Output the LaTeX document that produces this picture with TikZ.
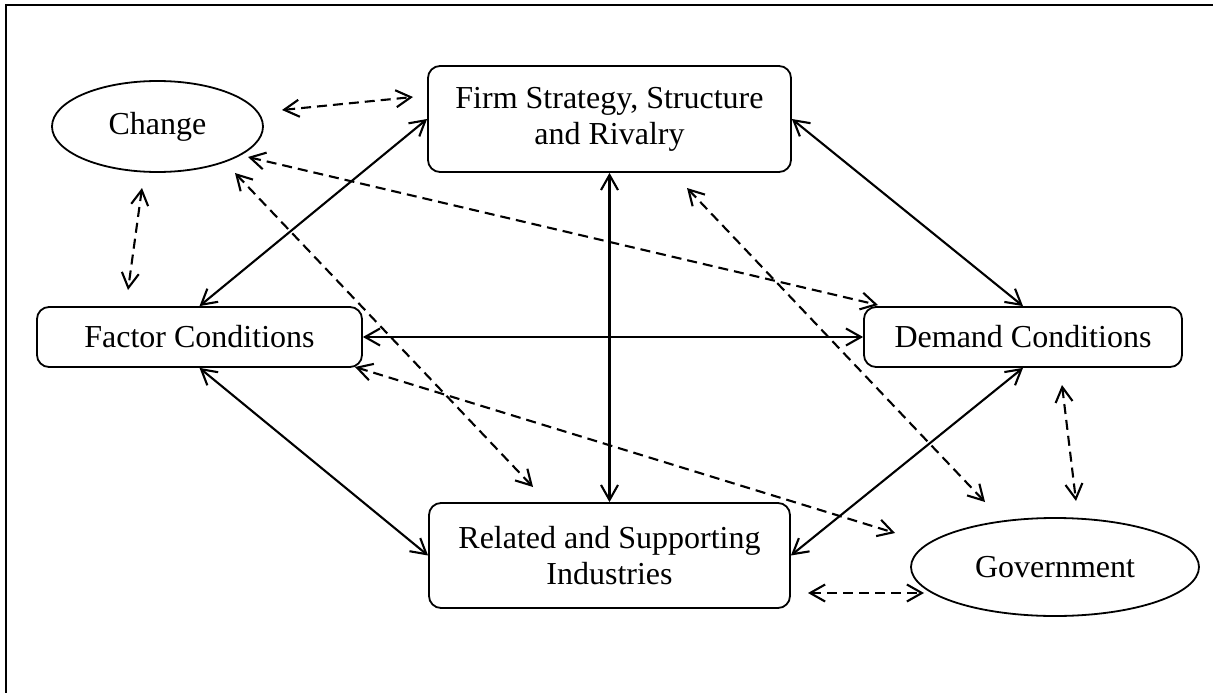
\documentclass[tikz,border=0pt]{standalone}
\usepackage{fontspec}
\setmainfont{Liberation Serif}
\usetikzlibrary{shapes.geometric,arrows.meta}
\begin{document}
\begin{tikzpicture}[x=1pt,y=-1pt,
  every node/.style={font=\fontsize{32}{36}\selectfont, align=center, inner sep=0pt},
  boxnode/.style={draw, line width=1.8pt, rounded corners=12pt},
  ellnode/.style={draw, ellipse, line width=1.8pt},
  solidlink/.style={line width=2.1pt, {Straight Barb[length=15pt,width=17pt]}-{Straight Barb[length=15pt,width=17pt]}},
  dashlink/.style={line width=2.1pt, dash pattern=on 10pt off 6pt, {Straight Barb[length=15pt,width=17pt]}-{Straight Barb[length=15pt,width=17pt]}}
]
\useasboundingbox (0,0) rectangle (1213,693);
\draw[line width=2pt] (6,693) -- (6,5.5) -- (1213,5.5);

\node[ellnode, minimum width=211pt, minimum height=91pt] (chg) at (157.5,126.5) {Change};
\node[boxnode, minimum width=363pt, minimum height=106pt] (firm) at (609.5,119) {Firm Strategy, Structure\\and Rivalry};
\node[boxnode, minimum width=325pt, minimum height=60pt] (fac) at (199.5,337) {Factor Conditions};
\node[boxnode, minimum width=318pt, minimum height=60pt] (dem) at (1023,337) {Demand Conditions};
\node[boxnode, minimum width=361pt, minimum height=105pt] (rel) at (609.5,555.5) {Related and Supporting\\Industries};
\node[ellnode, minimum width=288pt, minimum height=98pt] (gov) at (1055,567) {Government};

% solid links
\draw[solidlink] (fac.north) -- (firm.west);
\draw[solidlink] (firm.east) -- (dem.north);
\draw[solidlink] (firm.south) -- (rel.north);
\draw[solidlink] (fac.east) -- (dem.west);
\draw[solidlink] (fac.south) -- (rel.west);
\draw[solidlink] (dem.south) -- (rel.east);

% dashed link end points
\coordinate (c1) at (282,110);  \coordinate (f1) at (413,97);
\coordinate (c2) at (142,188);  \coordinate (fa2) at (128,290);
\coordinate (c3) at (248,157);  \coordinate (d3) at (878,305);
\coordinate (c4) at (235,173);  \coordinate (r4) at (533,487);
\coordinate (f5) at (687,188);  \coordinate (g5) at (985,502);
\coordinate (fa6) at (355,367); \coordinate (g6) at (895,533);
\coordinate (d7) at (1062,385); \coordinate (g7) at (1076,501);
\coordinate (r8) at (808,593);  \coordinate (g8) at (924,593);

\draw[dashlink] (c1) -- (f1);
\draw[dashlink] (c2) -- (fa2);
\draw[dashlink] (c3) -- (d3);
\draw[dashlink] (c4) -- (r4);
\draw[dashlink] (f5) -- (g5);
\draw[dashlink] (fa6) -- (g6);
\draw[dashlink] (d7) -- (g7);
\draw[dashlink] (r8) -- (g8);
\end{tikzpicture}
\end{document}
